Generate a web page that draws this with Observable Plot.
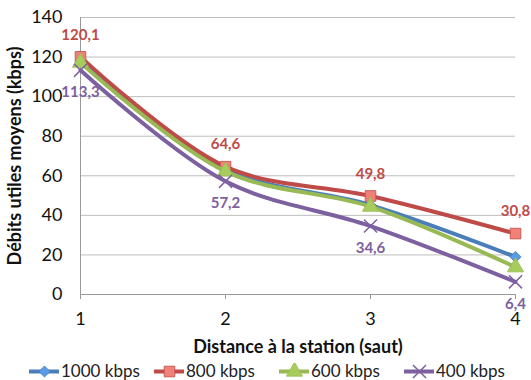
<!DOCTYPE html>
<html><head><meta charset="utf-8">
<script src="https://cdn.jsdelivr.net/npm/d3@7"></script>
<script src="https://cdn.jsdelivr.net/npm/@observablehq/plot@0.6"></script>
<style>
body{margin:0;background:#fff;font-family:Lato,"Open Sans",sans-serif;}
#legend{display:flex;gap:0;margin-left:29px;margin-top:0;font-size:17px;color:#222;}
.item{display:flex;align-items:center;width:125px;}
.item svg{margin-right:2px;}
</style></head><body>
<div id="chart"></div>
<div id="legend"></div>
<script>
const distances = [1, 2, 3, 4];
const seriesNames = ["1000 kbps", "800 kbps", "600 kbps", "400 kbps"];
const v1000 = [118.0, 63.2, 45.2, 19.0];
const v800 = [120.1, 64.6, 49.8, 30.8];
const v600 = [117.2, 62.2, 44.4, 13.8];
const v400 = [113.3, 57.2, 34.6, 6.4];
const yTicks = [0, 20, 40, 60, 80, 100, 120, 140];
const colors = ["#4a7ebb", "#be4b48", "#98b954", "#7d60a0"];
const fills = ["#5a9be6", "#f08078", "#a6cc5c", "#7d60a0"];
const symbols = ["diamond2", "square", "triangle", "times"];

const all = [v1000, v800, v600, v400];
const data = [];
all.forEach((vals, si) => vals.forEach((v, i) => data.push({d: distances[i], v, s: seriesNames[si]})));
const fmt = v => String(v).replace(".", ",");

const marks = [
  Plot.gridY(yTicks, {stroke: "#bdbdbd", strokeOpacity: 1, strokeWidth: 1}),
  Plot.ruleX([1], {stroke: "#9a9a9a"}),
  Plot.ruleY([0], {stroke: "#9a9a9a"}),
  Plot.axisY(yTicks, {tickSize: 0, tickPadding: 18, fontSize: 18, fill: "#111", label: null}),
  Plot.axisX(distances, {tickSize: 5, tickPadding: 13, fontSize: 18, fill: "#111", stroke: "#9a9a9a", label: null, tickFormat: d => d}),
  Plot.text(["Débits utiles moyens (kbps)"], {frameAnchor: "left", textAnchor: "middle", dx: -65, rotate: -90, fontSize: 18, fontWeight: "bold", fill: "#111"}),
  Plot.text(["Distance à la station (saut)"], {frameAnchor: "bottom", dy: 58, fontSize: 18, fontWeight: "bold", fill: "#111"})
];
seriesNames.forEach((name, si) => {
  const rows = data.filter(r => r.s === name);
  marks.push(Plot.line(rows, {x: "d", y: "v", stroke: colors[si], strokeWidth: 4, curve: "catmull-rom"}));
  marks.push(Plot.dot(rows, {x: "d", y: "v", symbol: () => symbols[si], r: si === 0 ? 5 : 6,
    fill: si === 3 ? "none" : fills[si], stroke: colors[si], strokeWidth: si === 3 ? 1.5 : 0.8}));
});
const rows800 = data.filter(r => r.s === "800 kbps");
const rows400 = data.filter(r => r.s === "400 kbps");
marks.push(Plot.text(rows800, {x: "d", y: "v", text: r => fmt(r.v), dy: -22, fill: "#be4b48", fontWeight: "bold", fontSize: 15}));
marks.push(Plot.text(rows400, {x: "d", y: "v", text: r => fmt(r.v), dy: 22, fill: "#7d60a0", fontWeight: "bold", fontSize: 15}));

const chart = Plot.plot({
  width: 531, height: 360,
  marginTop: 17, marginLeft: 80, marginRight: 16, marginBottom: 66,
  style: {fontFamily: "Lato, 'Open Sans', sans-serif", background: "#fff", overflow: "visible"},
  x: {domain: [1, 4]},
  y: {domain: [0, 140]},
  marks
});
document.getElementById("chart").appendChild(chart);

// legend
const legend = document.getElementById("legend");
seriesNames.forEach((name, si) => {
  const item = document.createElement("div");
  item.className = "item";
  const sw = Plot.plot({
    width: 30, height: 16, margin: 0,
    x: {domain: [0, 1], axis: null}, y: {domain: [0, 1], axis: null},
    marks: [
      Plot.line([[0, 0.5], [1, 0.5]], {stroke: colors[si], strokeWidth: 4}),
      Plot.dot([[0.5, 0.5]], {symbol: () => symbols[si], r: si === 0 ? 5 : 6,
        fill: si === 3 ? "none" : fills[si], stroke: colors[si], strokeWidth: si === 3 ? 1.5 : 0.8})
    ]
  });
  item.appendChild(sw);
  const t = document.createElement("span");
  t.textContent = name;
  item.appendChild(t);
  legend.appendChild(item);
});
</script>
</body></html>
